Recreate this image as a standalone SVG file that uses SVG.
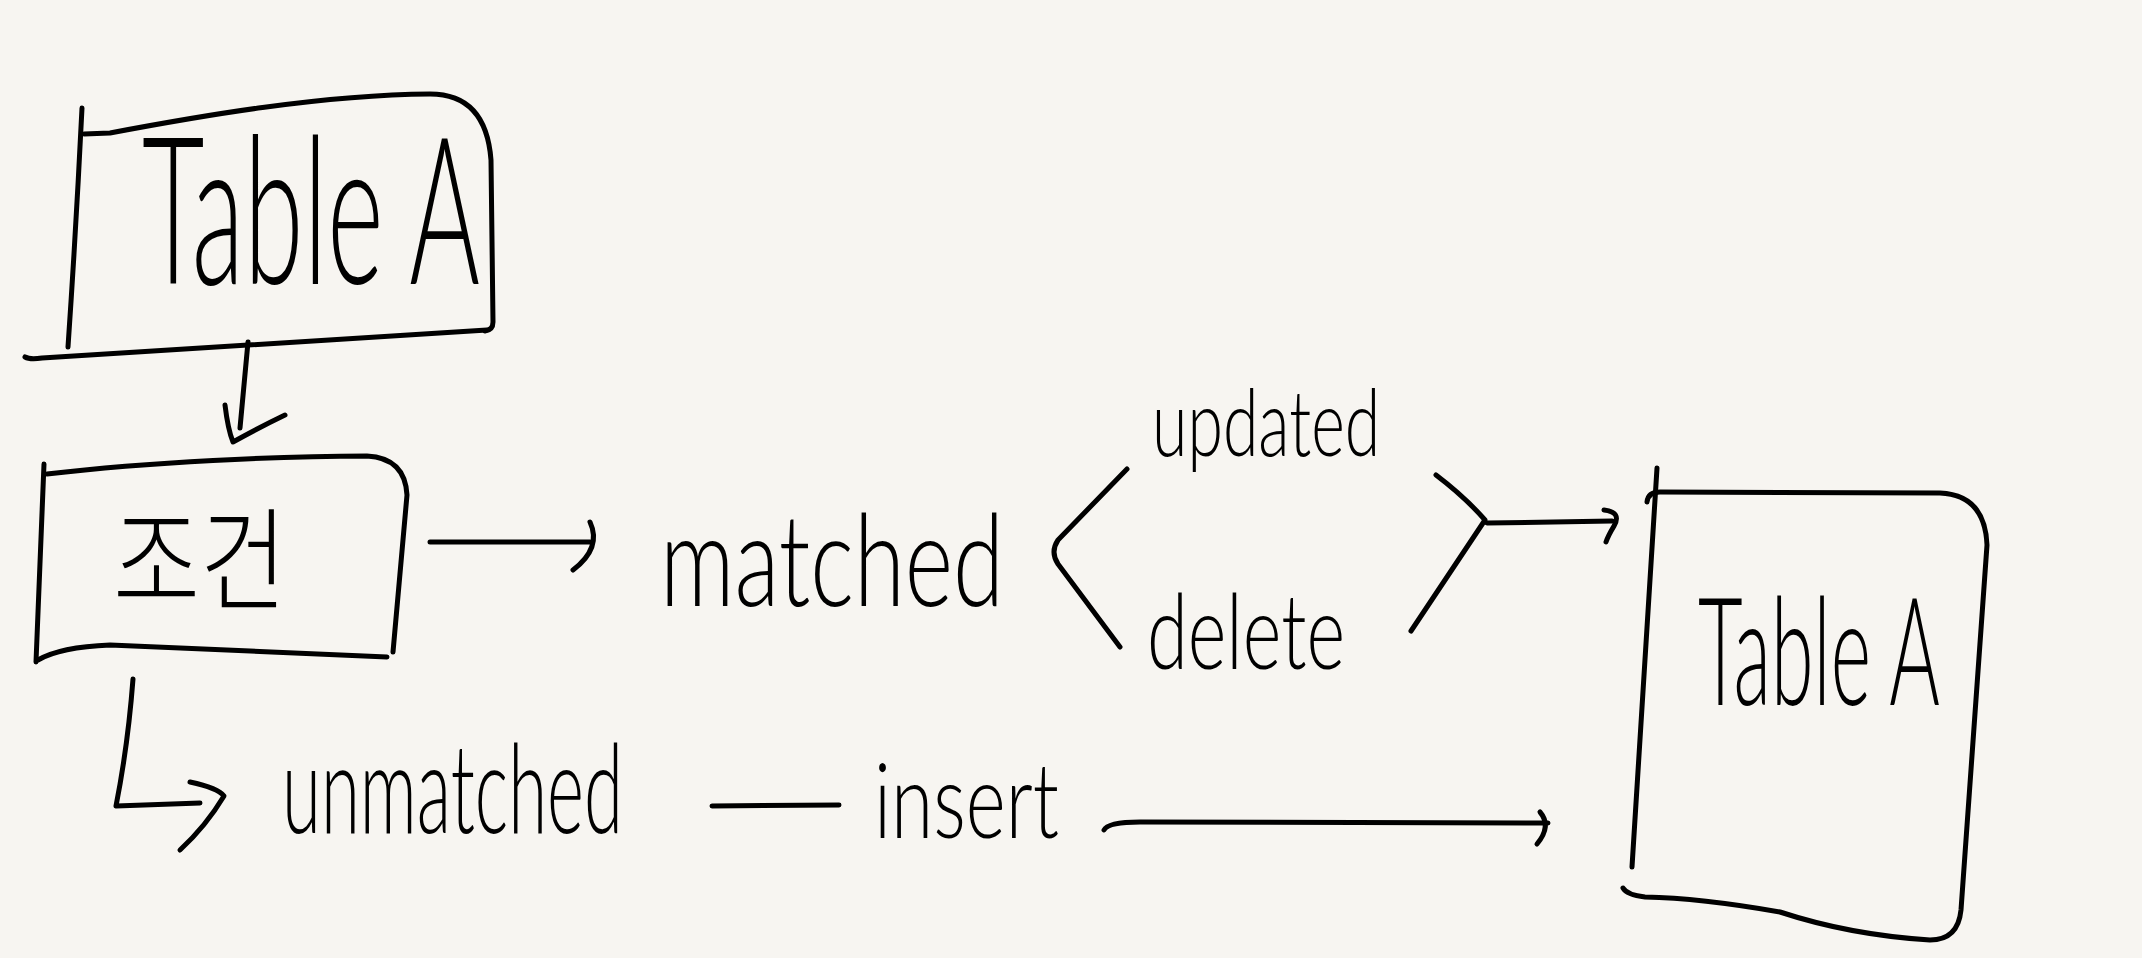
<svg xmlns="http://www.w3.org/2000/svg" width="2142" height="958" viewBox="0 0 2142 958">
<style>
.s{fill:none;stroke:#000;stroke-width:5;stroke-linecap:round;stroke-linejoin:round}
.t{font-family:Lato,"Liberation Sans",sans-serif;font-weight:300;fill:#000}
.k{font-family:"Noto Sans CJK KR","Noto Sans",sans-serif;font-weight:300;fill:#000}
</style>
<rect width="2142" height="958" fill="#f7f5f1"/>
<g id="tableA-source">
<path class="s" d="M82,108 Q76,230 68,347"/>
<path class="s" d="M84,134 L110,133 C200,116 320,95 430,94 Q486,94 491,160 L493,322 Q493,330 485,331"/>
<path class="s" d="M25,357 Q30,360 42,358 L487,330"/>
<text class="t" x="142" y="284" font-size="205" textLength="338" lengthAdjust="spacingAndGlyphs">Table A</text>
</g>
<g id="condition">
<path class="s" d="M44,464 Q40,560 36,662"/>
<path class="s" d="M47,474 C150,462 280,456 367,456 Q405,458 407,495 L393,652"/>
<path class="s" d="M38,660 Q60,647 110,645 L387,657"/>
<text class="k" x="113" y="602" font-size="112" textLength="174" lengthAdjust="spacingAndGlyphs">조건</text>
</g>
<g id="matched">
<text class="t" x="660" y="606" font-size="128" textLength="344" lengthAdjust="spacingAndGlyphs">matched</text>
</g>
<g id="updated">
<text class="t" transform="translate(1152,456) scale(0.7,1)" x="0" y="0" font-size="92">updated</text>
</g>
<g id="delete">
<text class="t" x="1147" y="669" font-size="104" textLength="198" lengthAdjust="spacingAndGlyphs">delete</text>
</g>
<g id="unmatched">
<text class="t" x="282" y="833" font-size="124" textLength="341" lengthAdjust="spacingAndGlyphs">unmatched</text>
</g>
<g id="insert">
<text class="t" x="874" y="838" font-size="104" textLength="185" lengthAdjust="spacingAndGlyphs">insert</text>
</g>
<g id="tableA-target">
<path class="s" d="M1657,468 Q1645,670 1632,867"/>
<path class="s" d="M1647,502 Q1648,492 1660,492 L1940,493 Q1985,495 1987,545 L1961,910 Q1958,940 1930,940 Q1850,935 1780,912 Q1700,898 1645,897 Q1627,895 1623,888"/>
<text class="t" x="1698" y="705" font-size="150" textLength="242" lengthAdjust="spacingAndGlyphs">Table A</text>
</g>
<g id="connectors">
<path class="s" d="M248,342 L240,428"/>
<path class="s" d="M225,405 Q228,430 233,442 Q262,426 285,415"/>
<path class="s" d="M430,542 L590,542"/>
<path class="s" d="M590,522 Q602,548 573,570"/>
<path class="s" d="M1127,469 L1058,540 Q1050,552 1058,564 L1120,647"/>
<path class="s" d="M1436,475 Q1465,497 1485,520 L1411,631"/>
<path class="s" d="M1487,523 L1612,521"/>
<path class="s" d="M1604,510 Q1622,512 1614,526 Q1608,536 1606,542"/>
<path class="s" d="M133,679 Q128,745 116,806 L200,803"/>
<path class="s" d="M190,782 Q218,788 224,796 Q206,826 180,850"/>
<path class="s" d="M712,806 L839,805"/>
<path class="s" d="M1104,830 Q1108,822 1140,822 L1548,823"/>
<path class="s" d="M1540,812 Q1552,826 1537,844"/>
</g>
</svg>
